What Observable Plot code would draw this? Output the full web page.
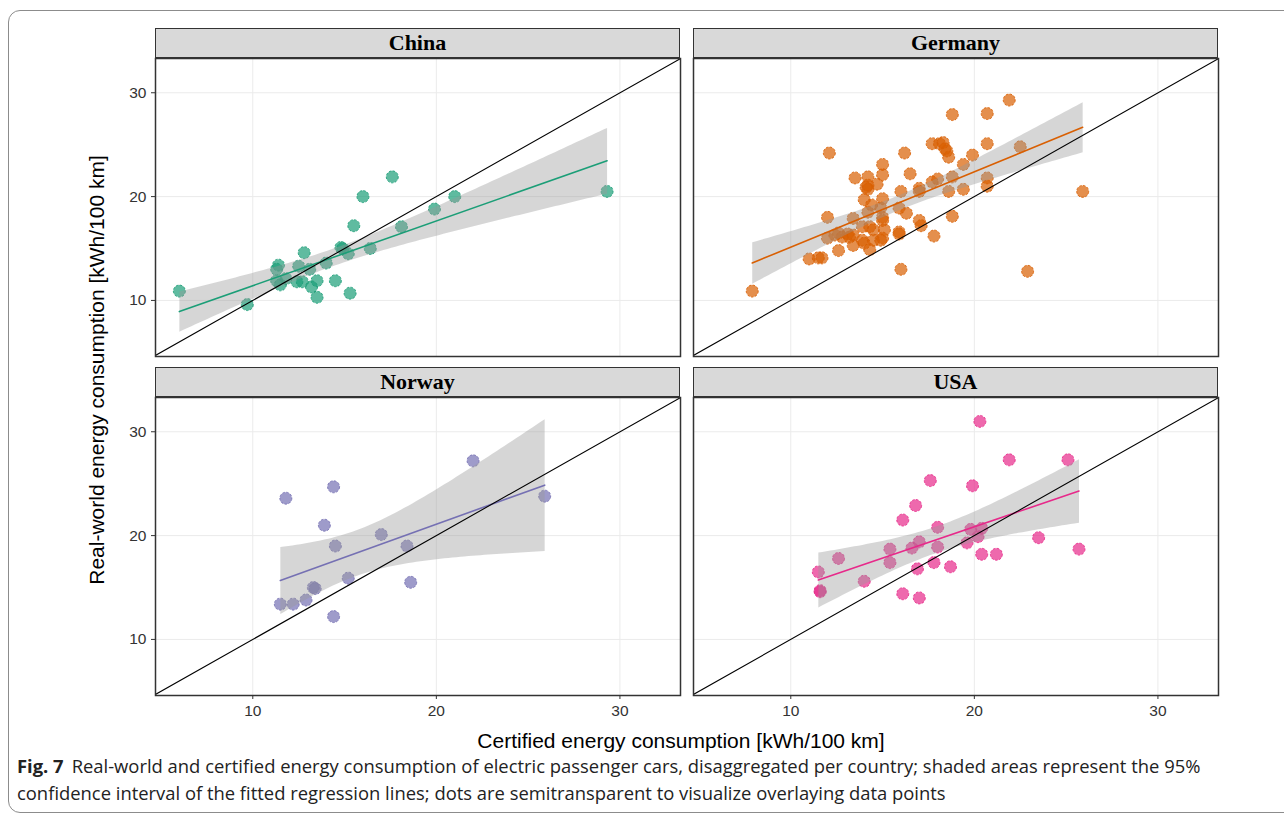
<!DOCTYPE html>
<html>
<head>
<meta charset="utf-8">
<script src="https://cdn.jsdelivr.net/npm/d3@7"></script>
<script src="https://cdn.jsdelivr.net/npm/@observablehq/plot@0.6"></script>
<style>
  html, body { margin: 0; padding: 0; background: #fff; }
  #root { position: relative; width: 1284px; height: 818px; overflow: hidden; background: #fff; }
  .frameBox { position: absolute; left: 8px; top: 10px; width: 1300px; height: 803px;
    border: 1.5px solid #8c8c8c; border-radius: 12px; box-sizing: border-box; }
  .strip { position: absolute; height: 30px; background: #d9d9d9; border: 1.5px solid #333;
    box-sizing: border-box; font-family: "Liberation Serif", "Times New Roman", serif; font-weight: bold;
    font-size: 22px; color: #000; text-align: center; line-height: 27px; }
  .panel { position: absolute; }
  .ytitle { position: absolute; left: 97px; top: 370px; transform: translate(-50%, -50%) rotate(-90deg);
    font-family: "Liberation Sans", Arial, sans-serif; font-size: 21px; color: #000; white-space: nowrap; }
  .xtitle { position: absolute; left: 681px; top: 741px; transform: translate(-50%, -50%);
    font-family: "Liberation Sans", Arial, sans-serif; font-size: 21px; color: #000; white-space: nowrap; }
  .capline { position: absolute; left: 17px; white-space: nowrap;
    font-family: "Open Sans", "Lato", sans-serif; font-size: 18.4px; line-height: 22px; color: #222; }
  .capline .fig { font-weight: bold; }
</style>
</head>
<body>
<div id="root">
  <div class="frameBox"></div>
</div>
<script>
// ---- Data ----
const countries = ["China", "Germany", "Norway", "USA"];
const colors = ["#1B9E77", "#D95F02", "#7570B3", "#E7298A"];
const ticks = [10, 20, 30];
const xDomain = [4.7, 33.3];
const yDomain = [4.6, 33.3];

const chinaCertified = [6.0, 9.7, 17.6, 16.0, 21.0, 19.9, 15.5, 18.1, 12.8, 14.8, 14.9, 15.2, 16.4, 11.4, 11.3, 12.5, 13.1, 14.0, 11.3, 11.5, 11.8, 12.4, 12.7, 13.2, 13.5, 13.5, 14.5, 15.3, 29.3];
const chinaReal      = [10.9, 9.6, 21.9, 20.0, 20.0, 18.8, 17.2, 17.1, 14.6, 15.1, 15.0, 14.5, 15.0, 13.4, 13.0, 13.3, 13.0, 13.6, 11.9, 11.5, 12.1, 11.8, 11.8, 11.3, 11.9, 10.3, 11.9, 10.7, 20.5];

const germanyCertified = [7.9, 12.1, 21.9, 18.8, 20.7, 20.7, 22.5, 17.7, 18.1, 18.3, 18.4, 18.5, 18.6, 16.2, 19.9, 19.4, 15.0, 15.0, 16.5, 13.5, 14.2, 14.7, 14.2, 14.2, 14.1, 16.0, 17.0, 17.0, 17.7, 18.0, 18.8, 18.6, 19.4, 20.7, 20.7, 25.9, 22.9, 16.0, 18.8, 17.8, 17.0, 17.1, 16.3, 15.9, 15.9, 15.9, 15.0, 14.9, 15.0, 15.0, 14.4, 14.0, 14.2, 13.4, 12.0, 13.9, 14.3, 14.5, 15.1, 15.0, 14.9, 12.0, 12.6, 12.8, 13.1, 13.2, 13.4, 13.4, 13.9, 14.0, 14.3, 12.6, 11.0, 11.5, 11.7, 12.4, 14.5];
const germanyReal      = [10.9, 24.2, 29.3, 27.9, 28.0, 25.1, 24.8, 25.1, 25.1, 25.2, 24.6, 24.4, 23.8, 24.2, 24.0, 23.1, 23.1, 22.1, 22.2, 21.8, 21.9, 21.2, 21.1, 20.7, 20.9, 20.5, 20.8, 20.5, 21.4, 21.7, 21.9, 20.5, 20.7, 21.8, 21.0, 20.5, 12.8, 13.0, 18.1, 16.2, 17.7, 17.2, 18.4, 18.9, 16.6, 16.4, 19.8, 18.9, 18.0, 17.7, 19.2, 19.7, 18.5, 17.9, 18.0, 17.1, 17.1, 16.8, 16.8, 16.0, 15.8, 16.0, 16.5, 16.1, 16.4, 16.1, 16.3, 15.3, 15.8, 15.5, 14.9, 14.8, 14.0, 14.1, 14.1, 16.3, 15.8];

const norwayCertified = [11.8, 14.4, 22.0, 25.9, 13.9, 17.0, 14.5, 18.4, 15.2, 13.3, 13.4, 18.6, 11.5, 12.2, 12.9, 14.4];
const norwayReal      = [23.6, 24.7, 27.2, 23.8, 21.0, 20.1, 19.0, 19.0, 15.9, 15.0, 14.9, 15.5, 13.4, 13.4, 13.8, 12.2];

const usaCertified = [20.3, 21.9, 25.1, 17.6, 19.9, 16.8, 16.1, 18.0, 19.8, 20.4, 20.2, 23.5, 19.6, 17.0, 16.6, 18.0, 15.4, 15.4, 20.4, 21.2, 25.7, 12.6, 16.9, 17.8, 18.7, 11.5, 14.0, 11.6, 11.6, 16.1, 17.0];
const usaReal      = [31.0, 27.3, 27.3, 25.3, 24.8, 22.9, 21.5, 20.8, 20.6, 20.7, 19.9, 19.8, 19.3, 19.4, 18.8, 18.9, 18.7, 17.4, 18.2, 18.2, 18.7, 17.8, 16.8, 17.4, 17.0, 16.5, 15.6, 14.7, 14.6, 14.4, 14.0];

const certified = [chinaCertified, germanyCertified, norwayCertified, usaCertified];
const real = [chinaReal, germanyReal, norwayReal, usaReal];

const captionFig = "Fig. 7";
const captionLines = [
  "Real-world and certified energy consumption of electric passenger cars, disaggregated per country; shaded areas represent the 95%",
  "confidence interval of the fitted regression lines; dots are semitransparent to visualize overlaying data points"
];

// ---- Layout ----
const colLeft = [155, 693];
const rowTop = [58, 397];
const stripTop = [28, 367];
const W = 525, H = 298;

const root = document.getElementById("root");

countries.forEach((country, i) => {
  const col = i % 2, row = Math.floor(i / 2);
  const data = certified[i].map((c, k) => ({country, certified: c, real: real[i][k]}));
  const ML = col === 0 ? 40 : 2;
  const MB = row === 1 ? 32 : 2;
  const MT = 2, MR = 2;
  const color = colors[i];
  const marks = [
    Plot.gridX(ticks, {stroke: "#ebebeb", strokeOpacity: 1, strokeWidth: 1}),
    Plot.gridY(ticks, {stroke: "#ebebeb", strokeOpacity: 1, strokeWidth: 1}),
    Plot.dot(data, {x: "certified", y: "real", r: 6, fill: color, fillOpacity: 0.7,
      stroke: color, strokeOpacity: 0.85, strokeWidth: 1, strokeDasharray: "2.5,1.5"}),
    Plot.linearRegressionY(data, {x: "certified", y: "real", ci: 0.95, stroke: color,
      strokeWidth: 1.6, fill: "#999999", fillOpacity: 0.4}),
    Plot.line(yDomain, {x: d => d, y: d => d, stroke: "#000", strokeWidth: 1.1, clip: true}),
    Plot.frame({stroke: "#333", strokeWidth: 1.5})
  ];
  if (col === 0) marks.push(Plot.axisY(ticks, {tickSize: 4, tickPadding: 5, stroke: "#333", label: null, fill: "#333"}));
  if (row === 1) marks.push(Plot.axisX(ticks, {tickSize: 4, tickPadding: 5, stroke: "#333", label: null, fill: "#333"}));
  const chart = Plot.plot({
    width: ML + W + MR,
    height: MT + H + MB,
    marginLeft: ML, marginRight: MR, marginTop: MT, marginBottom: MB,
    x: {domain: xDomain, axis: null},
    y: {domain: yDomain, axis: null},
    style: {background: "transparent", fontSize: "15.5px", fontFamily: "'Liberation Sans', Arial, sans-serif", color: "#333", overflow: "visible"},
    marks
  });
  const holder = document.createElement("div");
  holder.className = "panel";
  holder.style.left = (colLeft[col] - ML) + "px";
  holder.style.top = (rowTop[row] - MT) + "px";
  holder.appendChild(chart);
  root.appendChild(holder);

  const strip = document.createElement("div");
  strip.className = "strip";
  strip.style.left = colLeft[col] + "px";
  strip.style.top = stripTop[row] + "px";
  strip.style.width = W + "px";
  strip.textContent = country;
  root.appendChild(strip);
});

const yt = document.createElement("div");
yt.className = "ytitle";
yt.textContent = "Real-world energy consumption [kWh/100 km]";
root.appendChild(yt);

const xt = document.createElement("div");
xt.className = "xtitle";
xt.textContent = "Certified energy consumption [kWh/100 km]";
root.appendChild(xt);

const capTops = [755, 782];
captionLines.forEach((line, k) => {
  const d = document.createElement("div");
  d.className = "capline";
  d.style.top = capTops[k] + "px";
  if (k === 0) {
    const f = document.createElement("span");
    f.className = "fig";
    f.textContent = captionFig;
    d.appendChild(f);
    const t = document.createElement("span");
    t.style.marginLeft = "8px";
    t.textContent = line;
    d.appendChild(t);
  } else {
    d.textContent = line;
  }
  root.appendChild(d);
});
</script>
</body>
</html>
